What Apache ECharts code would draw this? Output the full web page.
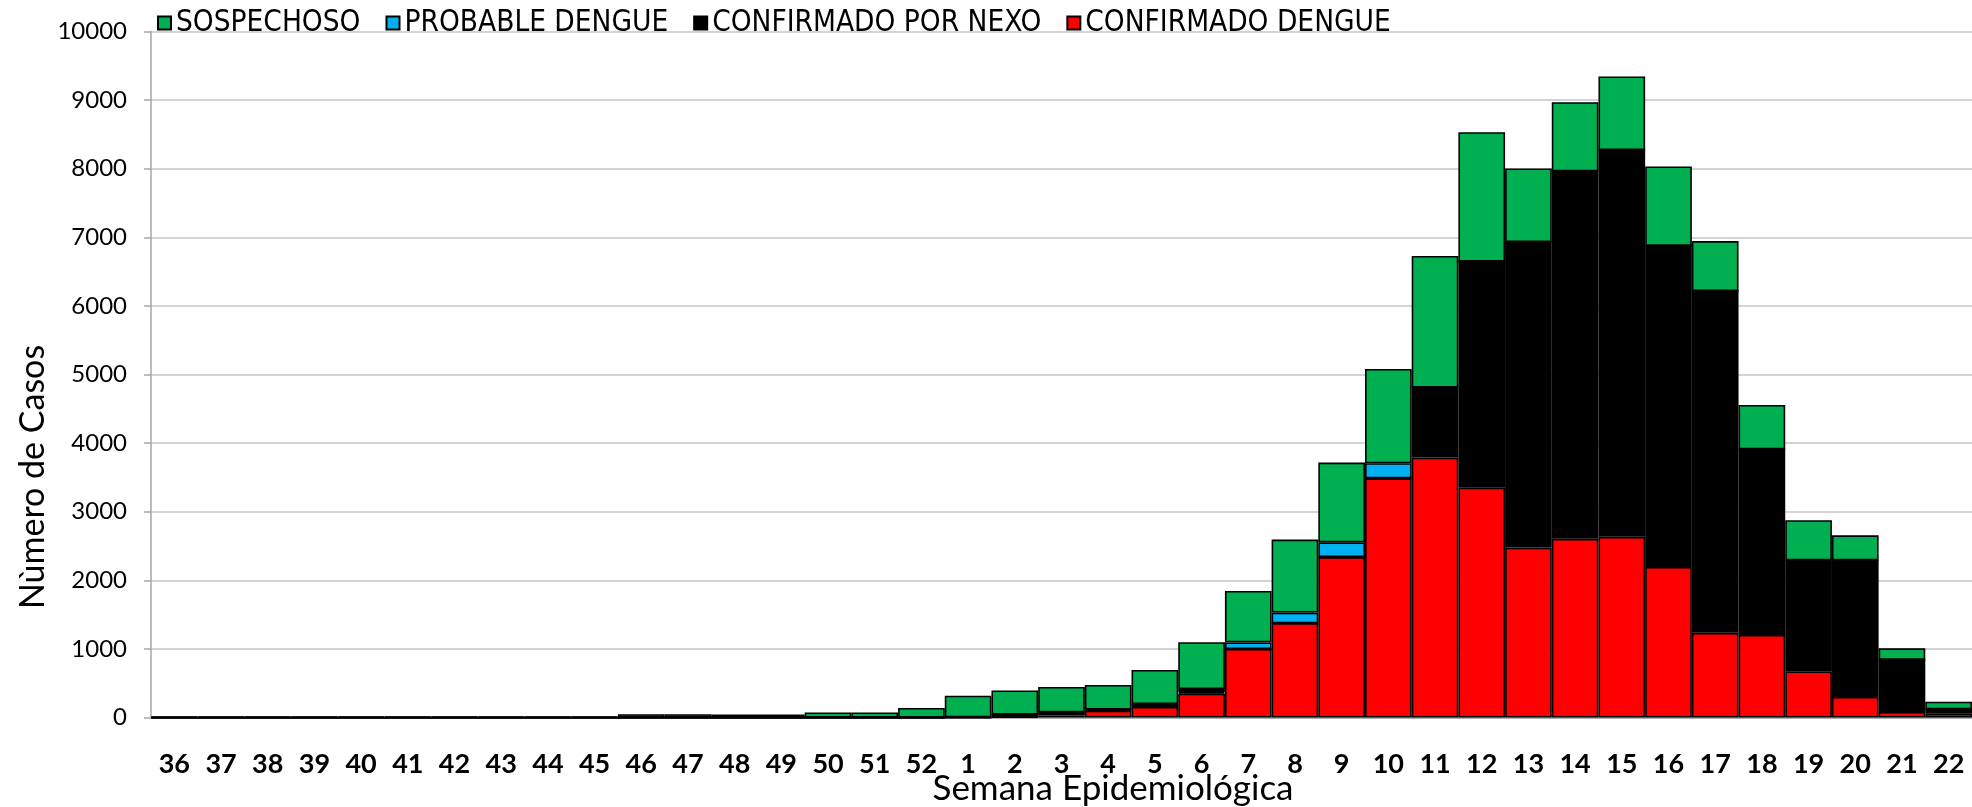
<!DOCTYPE html>
<html>
<head>
<meta charset="utf-8">
<script src="https://cdn.jsdelivr.net/npm/echarts@6/dist/echarts.min.js"></script>
<style>
html,body{margin:0;padding:0;background:#fff;}
#c{width:1972px;height:807px;}
</style>
</head>
<body>
<div id="c"></div>
<script>
var weeks = ['36','37','38','39','40','41','42','43','44','45','46','47','48','49','50','51','52',
  '1','2','3','4','5','6','7','8','9','10','11','12','13','14','15','16','17','18','19','20','21','22'];
var sospechoso = [15,15,15,15,15,15,15,15,15,15,50,50,45,45,75,75,140,
  315,350,372,361,500,683,751,1065,1161,1373,1917,1885,1073,1008,1073,1156,729,646,583,364,170,111];
var probable = [0,0,0,0,0,0,0,0,0,0,0,0,0,0,0,0,0,
  0,0,0,0,0,45,95,155,215,222,0,0,0,0,0,0,0,0,0,0,0,0];
var nexo = [0,0,0,0,0,0,0,0,0,0,0,0,0,0,0,0,0,
  5,35,45,15,40,20,0,0,0,0,1020,3297,4451,5355,5635,4680,4980,2705,1618,1993,758,64];
var confirmado = [0,0,0,0,0,0,0,0,0,0,0,0,0,0,0,0,0,
  0,10,30,100,155,350,1000,1375,2340,3485,3790,3350,2478,2605,2635,2195,1235,1205,675,300,82,57];
var yTicks = {min:0, max:10000, interval:1000};
var names = ['SOSPECHOSO','PROBABLE DENGUE','CONFIRMADO POR NEXO','CONFIRMADO DENGUE'];

var chart = echarts.init(document.getElementById('c'), null, {renderer:'canvas'});
function barSeries(name, data, color){
  return {
    name:name, type:'bar', stack:'total', data:data,
    barCategoryGap:'0%',
    itemStyle:{color:color, borderColor:'#000', borderWidth:1.6},
    emphasis:{disabled:true}
  };
}
chart.setOption({
  animation:false,
  backgroundColor:'#ffffff',
  grid:{left:151, top:31.4, bottom:89.4, right:-12, containLabel:false},
  legend:{
    data:names, left:152, top:3, itemWidth:13, itemHeight:13, itemGap:25,
    icon:'rect',
    textStyle:{fontFamily:'"Liberation Sans Narrow","DejaVu Sans Condensed",sans-serif', fontSize:29.5, color:'#000'}
  },
  xAxis:{
    type:'category', data:weeks,
    axisLine:{show:true, lineStyle:{color:'#a6a6a6', width:1.5}},
    axisTick:{show:false},
    axisLabel:{interval:0, margin:33, color:'#000', fontFamily:'Lato', fontWeight:'bold', fontSize:27},
    splitLine:{show:false}
  },
  yAxis:{
    type:'value', min:yTicks.min, max:yTicks.max, interval:yTicks.interval,
    axisLine:{show:true, lineStyle:{color:'#a6a6a6', width:1.5}},
    axisTick:{show:true, inside:false, length:7, lineStyle:{color:'#a6a6a6', width:1.5}},
    axisLabel:{margin:24, color:'#000', fontFamily:'Lato', fontSize:24,
      formatter:function(v){return String(v);}},
    splitLine:{show:true, lineStyle:{color:'#c4c4c4', width:1.5}}
  },
  graphic:[
    {type:'text', x:1113, y:789, silent:true,
     style:{text:'Semana Epidemiológica', font:'normal 35px Lato', fill:'#000',
            align:'center', verticalAlign:'middle', textAlign:'center', textVerticalAlign:'middle'}},
    {type:'text', x:33, y:477, rotation:Math.PI/2, silent:true,
     style:{text:'Nùmero de Casos', font:'normal 34px Lato', fill:'#000',
            align:'center', verticalAlign:'middle', textAlign:'center', textVerticalAlign:'middle'}}
  ],
  series:[
    barSeries(names[3], confirmado, '#ff0000'),
    barSeries(names[2], nexo, '#000000'),
    barSeries(names[1], probable, '#00b0f0'),
    barSeries(names[0], sospechoso, '#00b050')
  ]
});
</script>
</body>
</html>
